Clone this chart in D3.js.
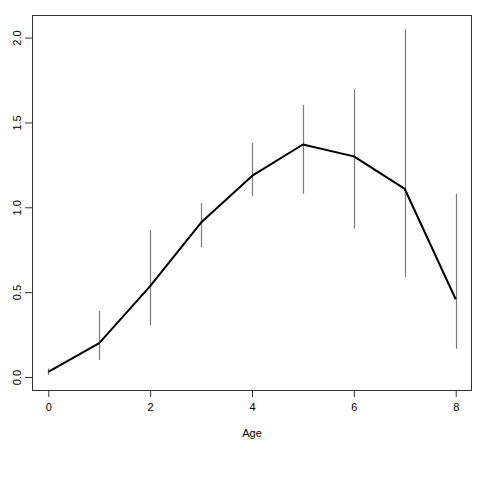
<!DOCTYPE html>
<html><head><meta charset="utf-8">
<script src="https://cdn.jsdelivr.net/npm/d3@7"></script>
<style>body{margin:0;background:#fff}svg{display:block}text{font-family:"Liberation Sans",Arial,sans-serif;font-size:11px;fill:#000}</style>
</head><body>
<svg id="c" width="480" height="480"></svg>
<script>
const ages = [0,1,2,3,4,5,6,7,8];
const means = [0.03,0.20,0.535,0.91,1.185,1.37,1.30,1.108,0.458];
const lower = [0.012,0.10,0.305,0.764,1.067,1.08,0.874,0.589,0.167];
const upper = [0.05,0.389,0.866,1.025,1.379,1.603,1.695,2.049,1.08];
const xTicks = [0,2,4,6,8];
const yTicks = [0,0.5,1,1.5,2];
const xLabel = "Age";

const svg = d3.select("#c");
const L=32,R=472,T=15,B=391;
const x = d3.scaleLinear().domain([-0.32,8.32]).range([L,R]);
const y = d3.scaleLinear().domain([-0.0825,2.133]).range([B,T]);

// error bars
svg.append("g").selectAll("line").data(ages).join("line")
  .attr("x1",(d,i)=>Math.round(x(d))+0.5).attr("x2",(d,i)=>Math.round(x(d))+0.5)
  .attr("y1",(d,i)=>y(lower[i])).attr("y2",(d,i)=>y(upper[i]))
  .attr("stroke","#7a7a7a").attr("stroke-width",1.2);

// mean line
svg.append("path").datum(ages)
  .attr("d",d3.line().x(d=>x(d)).y((d,i)=>y(means[i])))
  .attr("fill","none").attr("stroke","#000").attr("stroke-width",2).attr("stroke-linejoin","round");

// box
svg.append("rect").attr("x",L+0.5).attr("y",T+0.5).attr("width",R-L-1).attr("height",B-T-1)
  .attr("fill","none").attr("stroke","#333").attr("stroke-width",1);

// x axis
const gx = svg.append("g").attr("transform",`translate(0,${B})`)
  .call(d3.axisBottom(x).tickValues(xTicks).tickFormat(d3.format("d")).tickSize(6).tickPadding(6));
gx.select(".domain").remove();
gx.selectAll("text").style("font-size","11px");
gx.selectAll(".tick line").attr("stroke","#333");

// y axis
const gy = svg.append("g").attr("transform",`translate(${L},0)`)
  .call(d3.axisLeft(y).tickValues(yTicks).tickFormat(d3.format(".1f")).tickSize(7));
gy.select(".domain").remove();
gy.selectAll(".tick line").attr("stroke","#333");
gy.selectAll("text").attr("x",null).attr("dy",null)
  .attr("transform","translate(-15,0) rotate(-90)").attr("text-anchor","middle").attr("dy","0.35em").style("font-size","11px");

svg.append("text").attr("x",(L+R)/2).attr("y",437).attr("text-anchor","middle").text(xLabel);
</script>
</body></html>
